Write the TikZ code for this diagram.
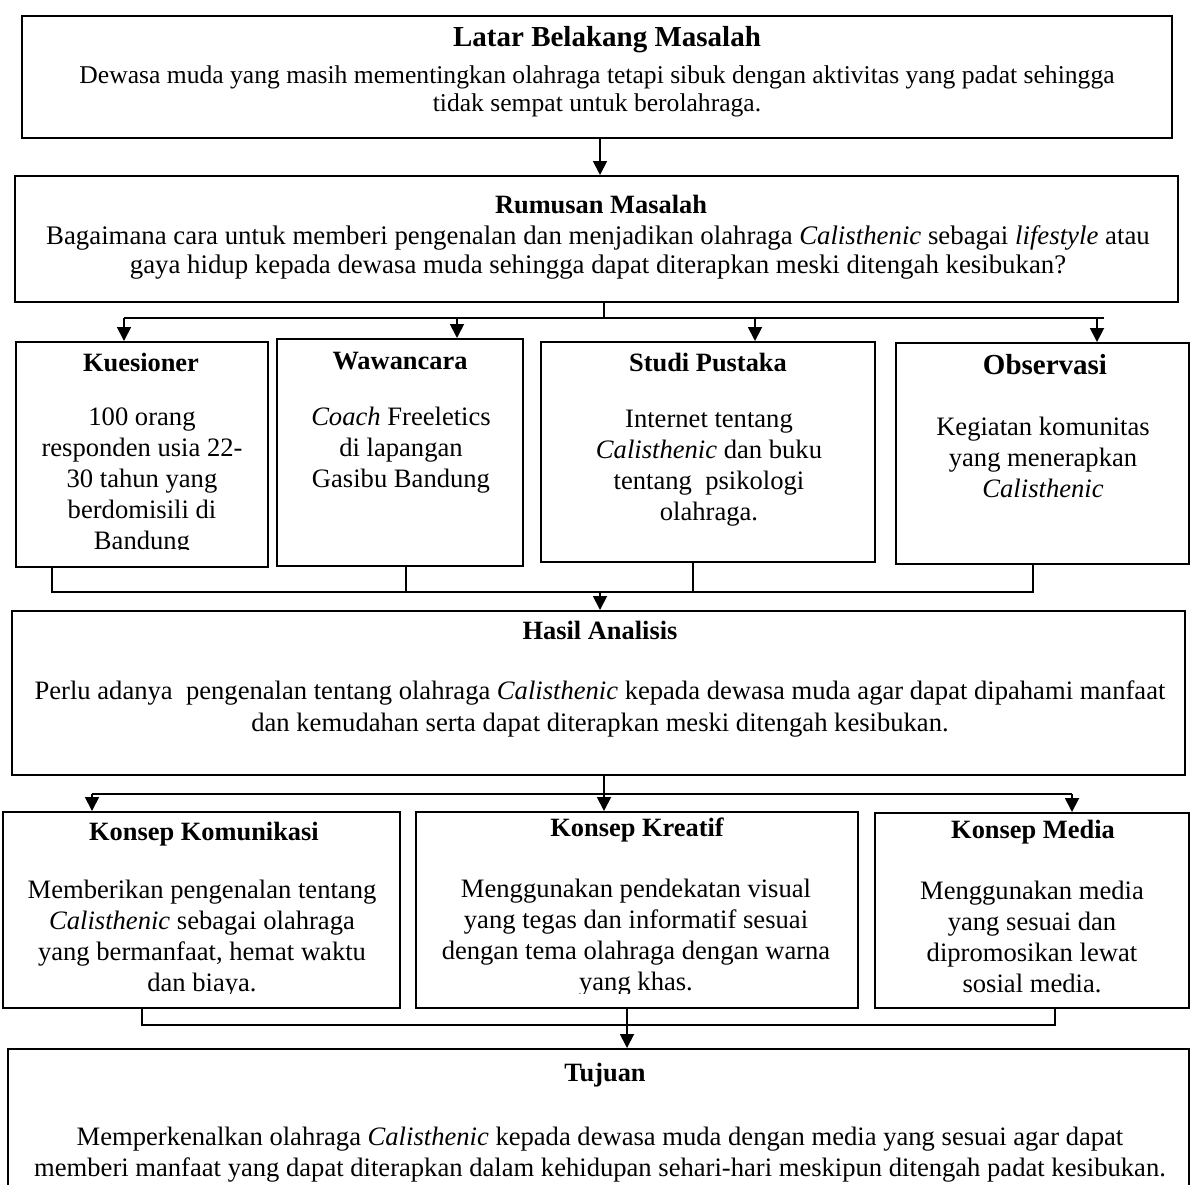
\documentclass[tikz,border=0pt]{standalone}
\usepackage{fontspec}
\setmainfont{Liberation Serif}
\usetikzlibrary{arrows.meta,fit}
\begin{document}
\begin{tikzpicture}[x=0.5pt,y=-0.5pt,
  box/.style={draw, line width=1pt, inner sep=0pt},
  ln/.style={line width=0.9pt},
  arr/.style={line width=0.9pt, -{Triangle[width=7pt,length=7pt]}},
  ttl/.style={font=\bfseries\fontsize{13.2}{15}\selectfont, inner sep=0pt},
  bigttl/.style={font=\bfseries\fontsize{14.5}{17}\selectfont, inner sep=0pt},
  bd/.style={font=\fontsize{13.3}{15.5}\selectfont, align=center, inner sep=0pt},
]
\useasboundingbox (0,0) rectangle (1192,1184);

% boxes
\node[box, fit={(22,16) (1172,138)}] (latar) {};
\node[box, fit={(15,176) (1178,302)}] (rumus) {};
\node[box, fit={(16,342) (268,567)}] (kues) {};
\node[box, fit={(277,339) (523,566)}] (waw) {};
\node[box, fit={(541,342) (875,562)}] (studi) {};
\node[box, fit={(896,343) (1189,564)}] (obs) {};
\node[box, fit={(12,611) (1185,775)}] (hasil) {};
\node[box, fit={(3,812) (400,1008)}] (kom) {};
\node[box, fit={(416,812) (858,1008)}] (kre) {};
\node[box, fit={(875,813) (1189,1008)}] (med) {};
\node[box, fit={(8,1049) (1189,1210)}] (tuj) {};

% texts
\node[bigttl] (tLatar) at (607,40) {Latar Belakang Masalah};
\node[bd, font=\fontsize{12.8}{14}\selectfont] (xLatar) at (597,91) {Dewasa muda yang masih mementingkan olahraga tetapi sibuk dengan aktivitas yang padat sehingga\\tidak sempat untuk berolahraga.};

\node[ttl] (tRumus) at (601,204) {Rumusan Masalah};
\node[bd, font=\fontsize{13.4}{14.5}\selectfont] (xRumus) at (598,252.5) {Bagaimana cara untuk memberi pengenalan dan menjadikan olahraga \textit{Calisthenic} sebagai \textit{lifestyle} atau\\gaya hidup kepada dewasa muda sehingga dapat diterapkan meski ditengah kesibukan?};

\node[ttl] (tKues) at (141,362) {Kuesioner};
\begin{scope}
\clip (16,342) rectangle (268,549);
\node[bd] (xKues) at (142,481.5) {100 orang\\responden usia 22-\\30 tahun yang\\berdomisili di\\Bandung};
\end{scope}

\node[ttl] (tWaw) at (400,361) {Wawancara};
\node[bd] (xWaw) at (401,450) {\textit{Coach} Freeletics\\di lapangan\\Gasibu Bandung};

\node[ttl] (tStudi) at (708,362) {Studi Pustaka};
\node[bd] (xStudi) at (709,468) {Internet tentang\\\textit{Calisthenic} dan buku\\tentang\ \ psikologi\\olahraga.};

\node[bigttl] (tObs) at (1045,365) {Observasi};
\node[bd] (xObs) at (1043,457) {Kegiatan komunitas\\yang menerapkan\\\textit{Calisthenic}};

\node[ttl] (tHasil) at (600,630) {Hasil Analisis};
\node[bd, font=\fontsize{13.3}{16}\selectfont] (xHasil) at (600,709) {Perlu adanya\ \ pengenalan tentang olahraga \textit{Calisthenic} kepada dewasa muda agar dapat dipahami manfaat\\dan kemudahan serta dapat diterapkan meski ditengah kesibukan.};

\node[ttl] (tKom) at (204,834) {Konsep Komunikasi};
\node[ttl] (tKre) at (637,830) {Konsep Kreatif};
\node[ttl] (tMed) at (1033,832) {Konsep Media};
\begin{scope}
\clip (0,812) rectangle (870,993);
\node[bd] (xKom) at (202,938.5) {Memberikan pengenalan tentang\\\textit{Calisthenic} sebagai olahraga\\yang bermanfaat, hemat waktu\\dan biaya.};
\node[bd] (xKre) at (636,938) {Menggunakan pendekatan visual\\yang tegas dan informatif sesuai\\dengan tema olahraga dengan warna\\yang khas.};
\end{scope}
\node[bd] (xMed) at (1032,937) {Menggunakan media\\yang sesuai dan\\dipromosikan lewat\\sosial media.};

\node[ttl] (tTuj) at (605,1075) {Tujuan};
\node[bd] (xTuj) at (600,1154.5) {Memperkenalkan olahraga \textit{Calisthenic} kepada dewasa muda dengan media yang sesuai agar dapat\\memberi manfaat yang dapat diterapkan dalam kehidupan sehari-hari meskipun ditengah padat kesibukan.};

% connectors
\coordinate (top) at (600,150);
\draw[arr] (latar.south -| top) -- (rumus.north -| top);

\coordinate (b0) at (604,318);
\coordinate (a1) at (124,318);
\coordinate (a2) at (457,318);
\coordinate (a3) at (755,318);
\coordinate (a4) at (1097,318);
\coordinate (b1r) at (1104,318);
\draw[ln] (rumus.south -| b0) -- (b0);
\draw[ln] (a1) -- (b1r);
\draw[arr] (a1) -- (a1 |- kues.north);
\draw[arr] (a2) -- (a2 |- waw.north);
\draw[arr] (a3) -- (a3 |- studi.north);
\draw[arr] (a4) -- (a4 |- obs.north);

\coordinate (c0) at (600,592);
\coordinate (c1) at (52,592);
\coordinate (c2) at (406,592);
\coordinate (c3) at (693,592);
\coordinate (c4) at (1033,592);
\draw[ln] (c1 |- kues.south) -- (c1) -- (c4) -- (c4 |- obs.south);
\draw[ln] (c2 |- waw.south) -- (c2);
\draw[ln] (c3 |- studi.south) -- (c3);
\draw[arr] (c0) -- (c0 |- hasil.north);

\coordinate (d0) at (604,794);
\coordinate (d1) at (92,794);
\coordinate (d3) at (1072,794);
\draw[ln] (hasil.south -| d0) -- (d0);
\draw[ln] (d1) -- (d3);
\draw[arr] (d1) -- (d1 |- kom.north);
\draw[arr] (d0) -- (d0 |- kre.north);
\draw[arr] (d3) -- (d3 |- med.north);

\coordinate (e0) at (627,1025);
\coordinate (e1) at (142,1025);
\coordinate (e3) at (1055,1025);
\draw[ln] (e1 |- kom.south) -- (e1) -- (e3) -- (e3 |- med.south);
\draw[arr] (kre.south -| e0) -- (e0 |- tuj.north);
\end{tikzpicture}
\end{document}
